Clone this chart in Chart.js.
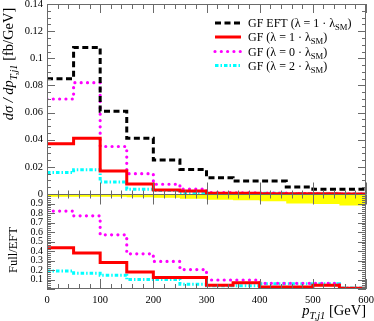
<!DOCTYPE html>
<html><head><meta charset="utf-8">
<script src="https://cdn.jsdelivr.net/npm/chart.js@4.4.1/dist/chart.umd.min.js"></script>
<style>html,body{margin:0;padding:0;background:#fff;}#wrap{width:374px;height:321px;}</style>
</head><body><div id="wrap"><canvas id="c" width="374" height="321"></canvas></div>
<script>
// ---- data (50 GeV bins from 0 to 600 GeV) ----
const binEdges = [0,50,100,150,200,250,300,350,400,450,500,550,600];
const xTickValues = [0,100,200,300,400,500,600];
const topTickValues = [0,0.02,0.04,0.06,0.08,0.1,0.12,0.14];
const ratioTickValues = [0.1,0.2,0.3,0.4,0.5,0.6,0.7,0.8,0.9];

// top panel: dsigma/dpT [fb/GeV]
const gfEFT   = [0.085,0.108,0.061,0.041,0.025,0.018,0.012,0.0095,0.0095,0.0052,0.0035,0.0035];
const gfLam1  = [0.037,0.041,0.017,0.0074,0.003,0.0022,0.0005,0.0006,0.0002,0.0002,0.00015,0.00003];
const gfLam0  = [0.070,0.082,0.035,0.015,0.0072,0.0037,0.0011,0.0009,0.0006,0.0003,0.0002,0.00003];
const gfLam2  = [0.0158,0.0178,0.0088,0.0035,0.0025,0.001,0.0004,0.0003,0.0005,0.0003,0.0002,0.00004];

// bottom panel: Full/EFT ratio
const ratioLam1 = [0.435,0.38,0.28,0.18,0.12,0.12,0.04,0.065,0.02,0.02,0.04,0.007];
const ratioLam0 = [0.82,0.77,0.57,0.37,0.29,0.205,0.095,0.095,0.06,0.06,0.06,0.007];
const ratioLam2 = [0.19,0.165,0.145,0.1,0.1,0.05,0.035,0.035,0.055,0.055,0.055,0.01];
// yellow uncertainty band (lower edge, band reaches up to 1)
const bandLow   = [0.97,0.97,0.97,0.965,0.96,0.95,0.94,0.935,0.925,0.9,0.895,0.88];

const labels = ['GF EFT','GF λ=1','GF λ=0','GF λ=2'];

// ---- styles ----
const AXIS = '#6a6a6a';
const SERIF = '"Liberation Serif", "DejaVu Serif", serif';
const styles = {
  eft:  {color:'#000000', width:3, dash:[6,3.5], cap:'butt'},
  l1:   {color:'#ff0000', width:3, dash:[], cap:'butt'},
  l0:   {color:'#ff00ff', width:3.2, dash:[0.01,6.3], cap:'round'},
  l2:   {color:'#00ffff', width:3, dash:[3.5,2,1.5,2], cap:'butt'}
};

function steps(vals){
  const pts = vals.map((v,i)=>({x:binEdges[i], y:v}));
  pts.push({x:binEdges[binEdges.length-1], y:vals[vals.length-1]});
  return pts;
}
function ds(label, vals, st, axis){
  return {label, data:steps(vals), yAxisID:axis, stepped:'before', borderColor:st.color,
    borderWidth:st.width, borderDash:st.dash, borderCapStyle:st.cap, fill:false, pointRadius:0};
}

function richWidth(ctx, segs, size){
  let w=0;
  for(const s of segs){ ctx.font = (s.it?'italic ':'')+(s.sub?size*0.72:size)+'px '+SERIF; w+=ctx.measureText(s.t).width; }
  return w;
}
function drawRich(ctx, segs, x, y, size){
  let cx=x;
  for(const s of segs){
    ctx.font = (s.it?'italic ':'')+(s.sub?size*0.72:size)+'px '+SERIF;
    ctx.fillText(s.t, cx, s.sub? y+size*0.25 : y);
    cx+=ctx.measureText(s.t).width;
  }
  return cx;
}

const decor = {
  id:'decor',
  afterDraw(chart){
    const ctx=chart.ctx, xs=chart.scales.x, ys=chart.scales.y, y2=chart.scales.y2;
    const L=xs.left, R=xs.right;
    ctx.save();
    ctx.strokeStyle=AXIS; ctx.lineWidth=1;
    ctx.strokeRect(Math.round(L)+0.5, Math.round(ys.top)+0.5, Math.round(R-L)-1, Math.round(y2.bottom-ys.top)-1);
    const sep = Math.round(ys.bottom)+0.5;
    ctx.beginPath(); ctx.moveTo(L,sep); ctx.lineTo(R,sep); ctx.stroke();
    function xt(yEdge, dir, maj, min){
      for(let v=0; v<=600; v+=20){
        const p=Math.round(xs.getPixelForValue(v))+0.5;
        const len = v%100===0?maj:min;
        ctx.beginPath(); ctx.moveTo(p,yEdge); ctx.lineTo(p,yEdge+dir*len); ctx.stroke();
      }
    }
    xt(ys.top, 1, 9, 5);
    xt(sep, -1, 12, 4);
    xt(sep, 1, 10, 4);
    xt(y2.bottom, -1, 10, 5);
    function yt(scale, n, step, every, maj, min){
      for(let i=0;i<=n;i++){
        const p=Math.round(scale.getPixelForValue(i*step))+0.5;
        const len = i%every===0?maj:min;
        ctx.beginPath(); ctx.moveTo(L,p); ctx.lineTo(L+len,p); ctx.stroke();
        ctx.beginPath(); ctx.moveTo(R,p); ctx.lineTo(R-len,p); ctx.stroke();
      }
    }
    yt(ys, 28, 0.005, 4, 8, 4);
    yt(y2, 50, 0.02, 5, 8, 4);

    ctx.fillStyle='#000';
    const ent = [
      [styles.eft, 'GF EFT (λ = 1 · λ'],
      [styles.l1,  'GF (λ = 1 · λ'],
      [styles.l0,  'GF (λ = 0 · λ'],
      [styles.l2,  'GF (λ = 2 · λ']
    ];
    const rows=[23,37,51.5,65.5];
    ent.forEach((e,i)=>{
      const st=e[0], yy=rows[i];
      ctx.save();
      ctx.strokeStyle=st.color; ctx.lineWidth=st.width; ctx.setLineDash(st.dash); ctx.lineCap=st.cap;
      ctx.beginPath(); ctx.moveTo(215,yy); ctx.lineTo(241,yy); ctx.stroke();
      ctx.restore();
      ctx.textBaseline='alphabetic';
      drawRich(ctx, [{t:e[1]},{t:'SM',sub:true},{t:')'}], 248, yy+4, 12);
    });

    ctx.fillStyle='#000'; ctx.textBaseline='alphabetic';
    const xt2=[{t:'p',it:true},{t:'T,j1',it:true,sub:true},{t:' [GeV]'}];
    const w=richWidth(ctx,xt2,14.5);
    drawRich(ctx, xt2, R-w, 315, 14.5);

    const yt1=[{t:'dσ / dp',it:true},{t:'T,j1',it:true,sub:true},{t:' [fb/GeV]'}];
    ctx.save(); ctx.translate(13, 64); ctx.rotate(-Math.PI/2);
    const w1=richWidth(ctx,yt1,14.5); drawRich(ctx, yt1, -w1/2, 0, 14.5); ctx.restore();

    const yt2=[{t:'Full/EFT'}];
    ctx.save(); ctx.translate(17, 250); ctx.rotate(-Math.PI/2);
    const w2=richWidth(ctx,yt2,12.5); drawRich(ctx, yt2, -w2/2, 0, 12.5); ctx.restore();
    ctx.restore();
  }
};

const tickFont = {family:SERIF, size:10.5};
function fmt(v){ return String(parseFloat(v.toFixed(3))); }

new Chart(document.getElementById('c'), {
  type:'line',
  data:{datasets:[
    ds(labels[0], gfEFT, styles.eft, 'y'),
    ds(labels[1], gfLam1, styles.l1, 'y'),
    ds(labels[2], gfLam0, styles.l0, 'y'),
    ds(labels[3], gfLam2, styles.l2, 'y'),
    ds(labels[1]+' ratio', ratioLam1, styles.l1, 'y2'),
    ds(labels[2]+' ratio', ratioLam0, styles.l0, 'y2'),
    ds(labels[3]+' ratio', ratioLam2, styles.l2, 'y2'),
    {label:'band', data:steps(bandLow), yAxisID:'y2', stepped:'before', borderWidth:0,
     borderColor:'rgba(0,0,0,0)', backgroundColor:'#ffff00', fill:{value:1}, pointRadius:0}
  ]},
  options:{
    responsive:false, animation:false,
    layout:{padding:{left:0,right:8,top:4,bottom:0}},
    plugins:{legend:{display:false}, tooltip:{enabled:false}},
    scales:{
      x:{type:'linear', min:0, max:600, grid:{display:false, drawTicks:false}, border:{display:false},
         afterBuildTicks(s){ s.ticks = xTickValues.map(v=>({value:v})); },
         ticks:{font:tickFont, color:'#000', padding:5, maxRotation:0, autoSkip:false, callback:v=>String(v)},
         afterFit(s){ s.height=32; s.paddingLeft=0; s.paddingRight=0; }},
      y2:{type:'linear', position:'left', stack:'p', stackWeight:1, min:0, max:1,
         grid:{display:false, drawTicks:false}, border:{display:false},
         afterBuildTicks(s){ s.ticks = ratioTickValues.map(v=>({value:v})); },
         ticks:{font:{family:SERIF, size:10}, color:'#000', padding:4, autoSkip:false, callback:v=>fmt(v)},
         afterFit(s){ s.width=47; s.paddingTop=0; s.paddingBottom=0; }},
      y:{type:'linear', position:'left', stack:'p', stackWeight:2, min:0, max:0.14,
         grid:{display:false, drawTicks:false}, border:{display:false},
         afterBuildTicks(s){ s.ticks = topTickValues.map(v=>({value:v})); },
         ticks:{font:tickFont, color:'#000', padding:4, autoSkip:false, callback:v=>fmt(v)},
         afterFit(s){ s.width=47; s.paddingTop=0; s.paddingBottom=0; }}
    }
  },
  plugins:[decor]
});
</script></body></html>
